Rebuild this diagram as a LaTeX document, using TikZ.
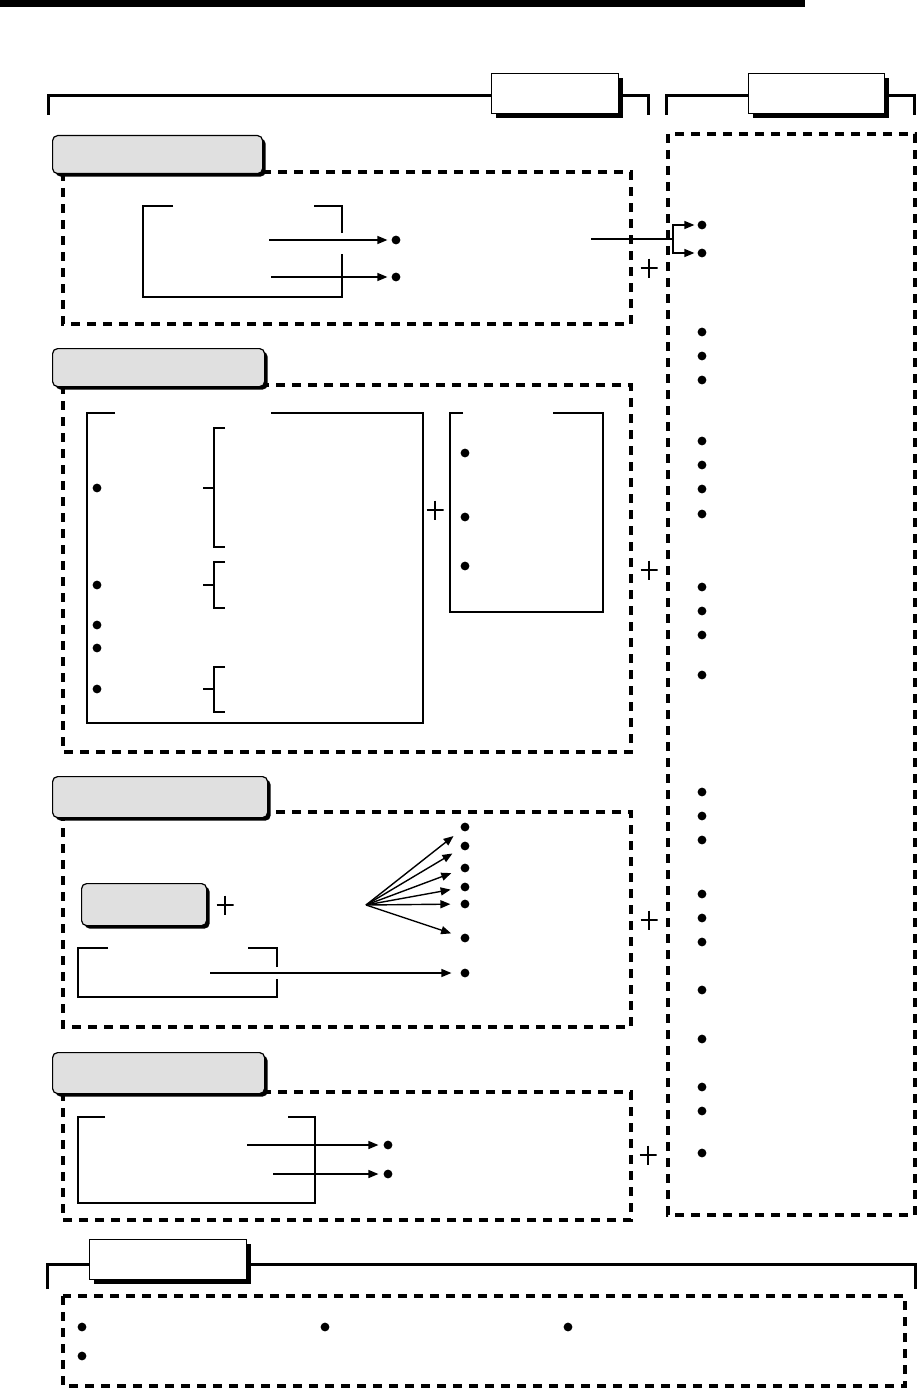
\documentclass[tikz,border=0pt]{standalone}
\usepackage{tikz}
\usetikzlibrary{arrows.meta,shadows}

\definecolor{headgray}{RGB}{224,224,224}

\begin{document}
\begin{tikzpicture}[x=1pt, y=-1pt, >={Triangle[length=10pt,width=8pt]},
    dashbox/.style={draw, line width=4pt, dash pattern=on 9pt off 7pt},
    bracketline/.style={line width=3pt},
    framebox/.style={line width=1.2pt},
    arrowline/.style={->, line width=1.4pt, shorten >=4pt},
    bullet/.style={circle, fill, inner sep=0pt, minimum size=8.8pt},
    head/.style={draw, rectangle, rounded corners=5pt, fill=headgray, line width=1.2pt, anchor=north west, inner sep=0pt,
        drop shadow={shadow xshift=3pt, shadow yshift=-3pt, fill=black, opacity=1}},
    tag/.style={draw, rectangle, fill=white, line width=1.2pt, anchor=north west, inner sep=0pt,
        drop shadow={shadow xshift=4pt, shadow yshift=-4pt, fill=black, opacity=1}},
    plussign/.style={inner sep=0pt, minimum width=17pt, minimum height=19pt,
        path picture={\draw[line width=2.4pt]
            (path picture bounding box.north) -- (path picture bounding box.south)
            (path picture bounding box.west) -- (path picture bounding box.east);}}]
    \useasboundingbox (0,0) rectangle (920,1391);

    % top rule and group brackets
    \fill (0,0) rectangle (805,7.5);
    \draw[bracketline] (48,115) -- (48,96) -- (648,96) -- (648,115);
    \draw[bracketline] (666,115) -- (666,96) -- (914,96) -- (914,115);
    \draw[bracketline] (47,1289) -- (47,1264) -- (915,1264) -- (915,1289);
    \node[tag, minimum width=127pt, minimum height=40pt] (TagLeft) at (491,73) {};
    \node[tag, minimum width=136pt, minimum height=40pt] (TagRight) at (748,73) {};
    \node[tag, minimum width=157pt, minimum height=40pt] (TagBottom) at (89,1239) {};

    % right column
    \draw[dashbox] (668,134) rectangle (915,1215);
    \node[bullet] (R1) at (702,225) {};
    \node[bullet] (R2) at (702,253) {};
    \foreach \y in {332,356,380,441,465,489,514,587,611,635,675,792,816,840,894,918,942,990,1039,1087,1111,1153}
        \node[bullet] (R\y) at (702,\y) {};

    % section A
    \draw[dashbox] (63,172) rectangle (631,324);
    \node[head, minimum width=210pt, minimum height=38pt] (HeadA) at (52,135) {};
    \draw[framebox] (173,206) -- (143,206) -- (143,297) -- (342,297) -- (342,254);
    \draw[framebox] (342,233) -- (342,206) -- (314,206);
    \node[bullet] (DotA1) at (396,240) {};
    \node[bullet] (DotA2) at (396,277) {};
    \coordinate (FromA1) at (269,240);
    \coordinate (FromA2) at (271,277);
    \draw[arrowline] (FromA1) -- (DotA1);
    \draw[arrowline] (FromA2) -- (DotA2);
    \coordinate (LinkA) at (591,239);
    \coordinate (Fork) at (673,239);
    \draw[line width=1.2pt] (LinkA) -- (Fork);
    \draw[arrowline, shorten >=3pt] (Fork) |- (R1);
    \draw[arrowline, shorten >=3pt] (Fork) |- (R2);
    \node[plussign] (PlusA) at (649,268) {};

    % section B
    \draw[dashbox] (63,385) rectangle (631,752);
    \node[head, minimum width=212pt, minimum height=38pt] (HeadB) at (52,348) {};
    \draw[framebox] (115,413) -- (87,413) -- (87,723) -- (423,723) -- (423,413) -- (271,413);
    \foreach \y in {488,585,625,648,689}
        \node[bullet] (DotB\y) at (97,\y) {};
    \foreach \ym/\yt/\yb in {488/428/547, 585/562/608, 689/667/712}
        \draw[framebox] (203,\ym) -- (214,\ym) (225,\yt) -- (214,\yt) -- (214,\yb) -- (225,\yb);
    \node[plussign] (PlusB1) at (435,510) {};
    \draw[framebox] (463,413) -- (450,413) -- (450,612) -- (603,612) -- (603,413) -- (553,413);
    \foreach \y in {453,517,566}
        \node[bullet] (DotB\y) at (465,\y) {};
    \node[plussign] (PlusB) at (649,570) {};

    % section C
    \draw[dashbox] (63,812) rectangle (631,1027);
    \node[head, minimum width=215pt, minimum height=41pt] (HeadC) at (52,776) {};
    \node[head, minimum width=125pt, minimum height=42pt] (SubC) at (81,883) {};
    \node[plussign] (PlusC1) at (225,905) {};
    \draw[framebox] (108,948) -- (78,948) -- (78,997) -- (277,997) -- (277,979);
    \draw[framebox] (277,967) -- (277,948) -- (248,948);
    \coordinate (FanC) at (366,905);
    \foreach \i/\y in {1/827,2/846,3/868,4/887,5/904,6/938,7/973}
        \node[bullet] (DotC\i) at (465,\y) {};
    \foreach \i in {1,...,6}
        \draw[arrowline, shorten >=10pt] (FanC) -- (DotC\i);
    \coordinate (FromC) at (210,973);
    \draw[arrowline, shorten >=9pt] (FromC) -- (DotC7);
    \node[plussign] (PlusC) at (649,920) {};

    % section D
    \draw[dashbox] (63,1092) rectangle (631,1220);
    \node[head, minimum width=212pt, minimum height=41pt] (HeadD) at (52,1052) {};
    \draw[framebox] (105,1117) -- (78,1117) -- (78,1203) -- (315,1203) -- (315,1117) -- (288,1117);
    \node[bullet] (DotD1) at (388,1145) {};
    \node[bullet] (DotD2) at (388,1174) {};
    \coordinate (FromD1) at (247,1145);
    \coordinate (FromD2) at (273,1174);
    \draw[arrowline, shorten >=5pt] (FromD1) -- (DotD1);
    \draw[arrowline, shorten >=5pt] (FromD2) -- (DotD2);
    \node[plussign] (PlusD) at (648,1155) {};

    % bottom group
    \draw[dashbox] (63,1296) rectangle (905,1386);
    \node[bullet] (DotE1) at (82,1327) {};
    \node[bullet] (DotE2) at (325,1327) {};
    \node[bullet] (DotE3) at (568,1327) {};
    \node[bullet] (DotE4) at (82,1356) {};
\end{tikzpicture}
\end{document}
